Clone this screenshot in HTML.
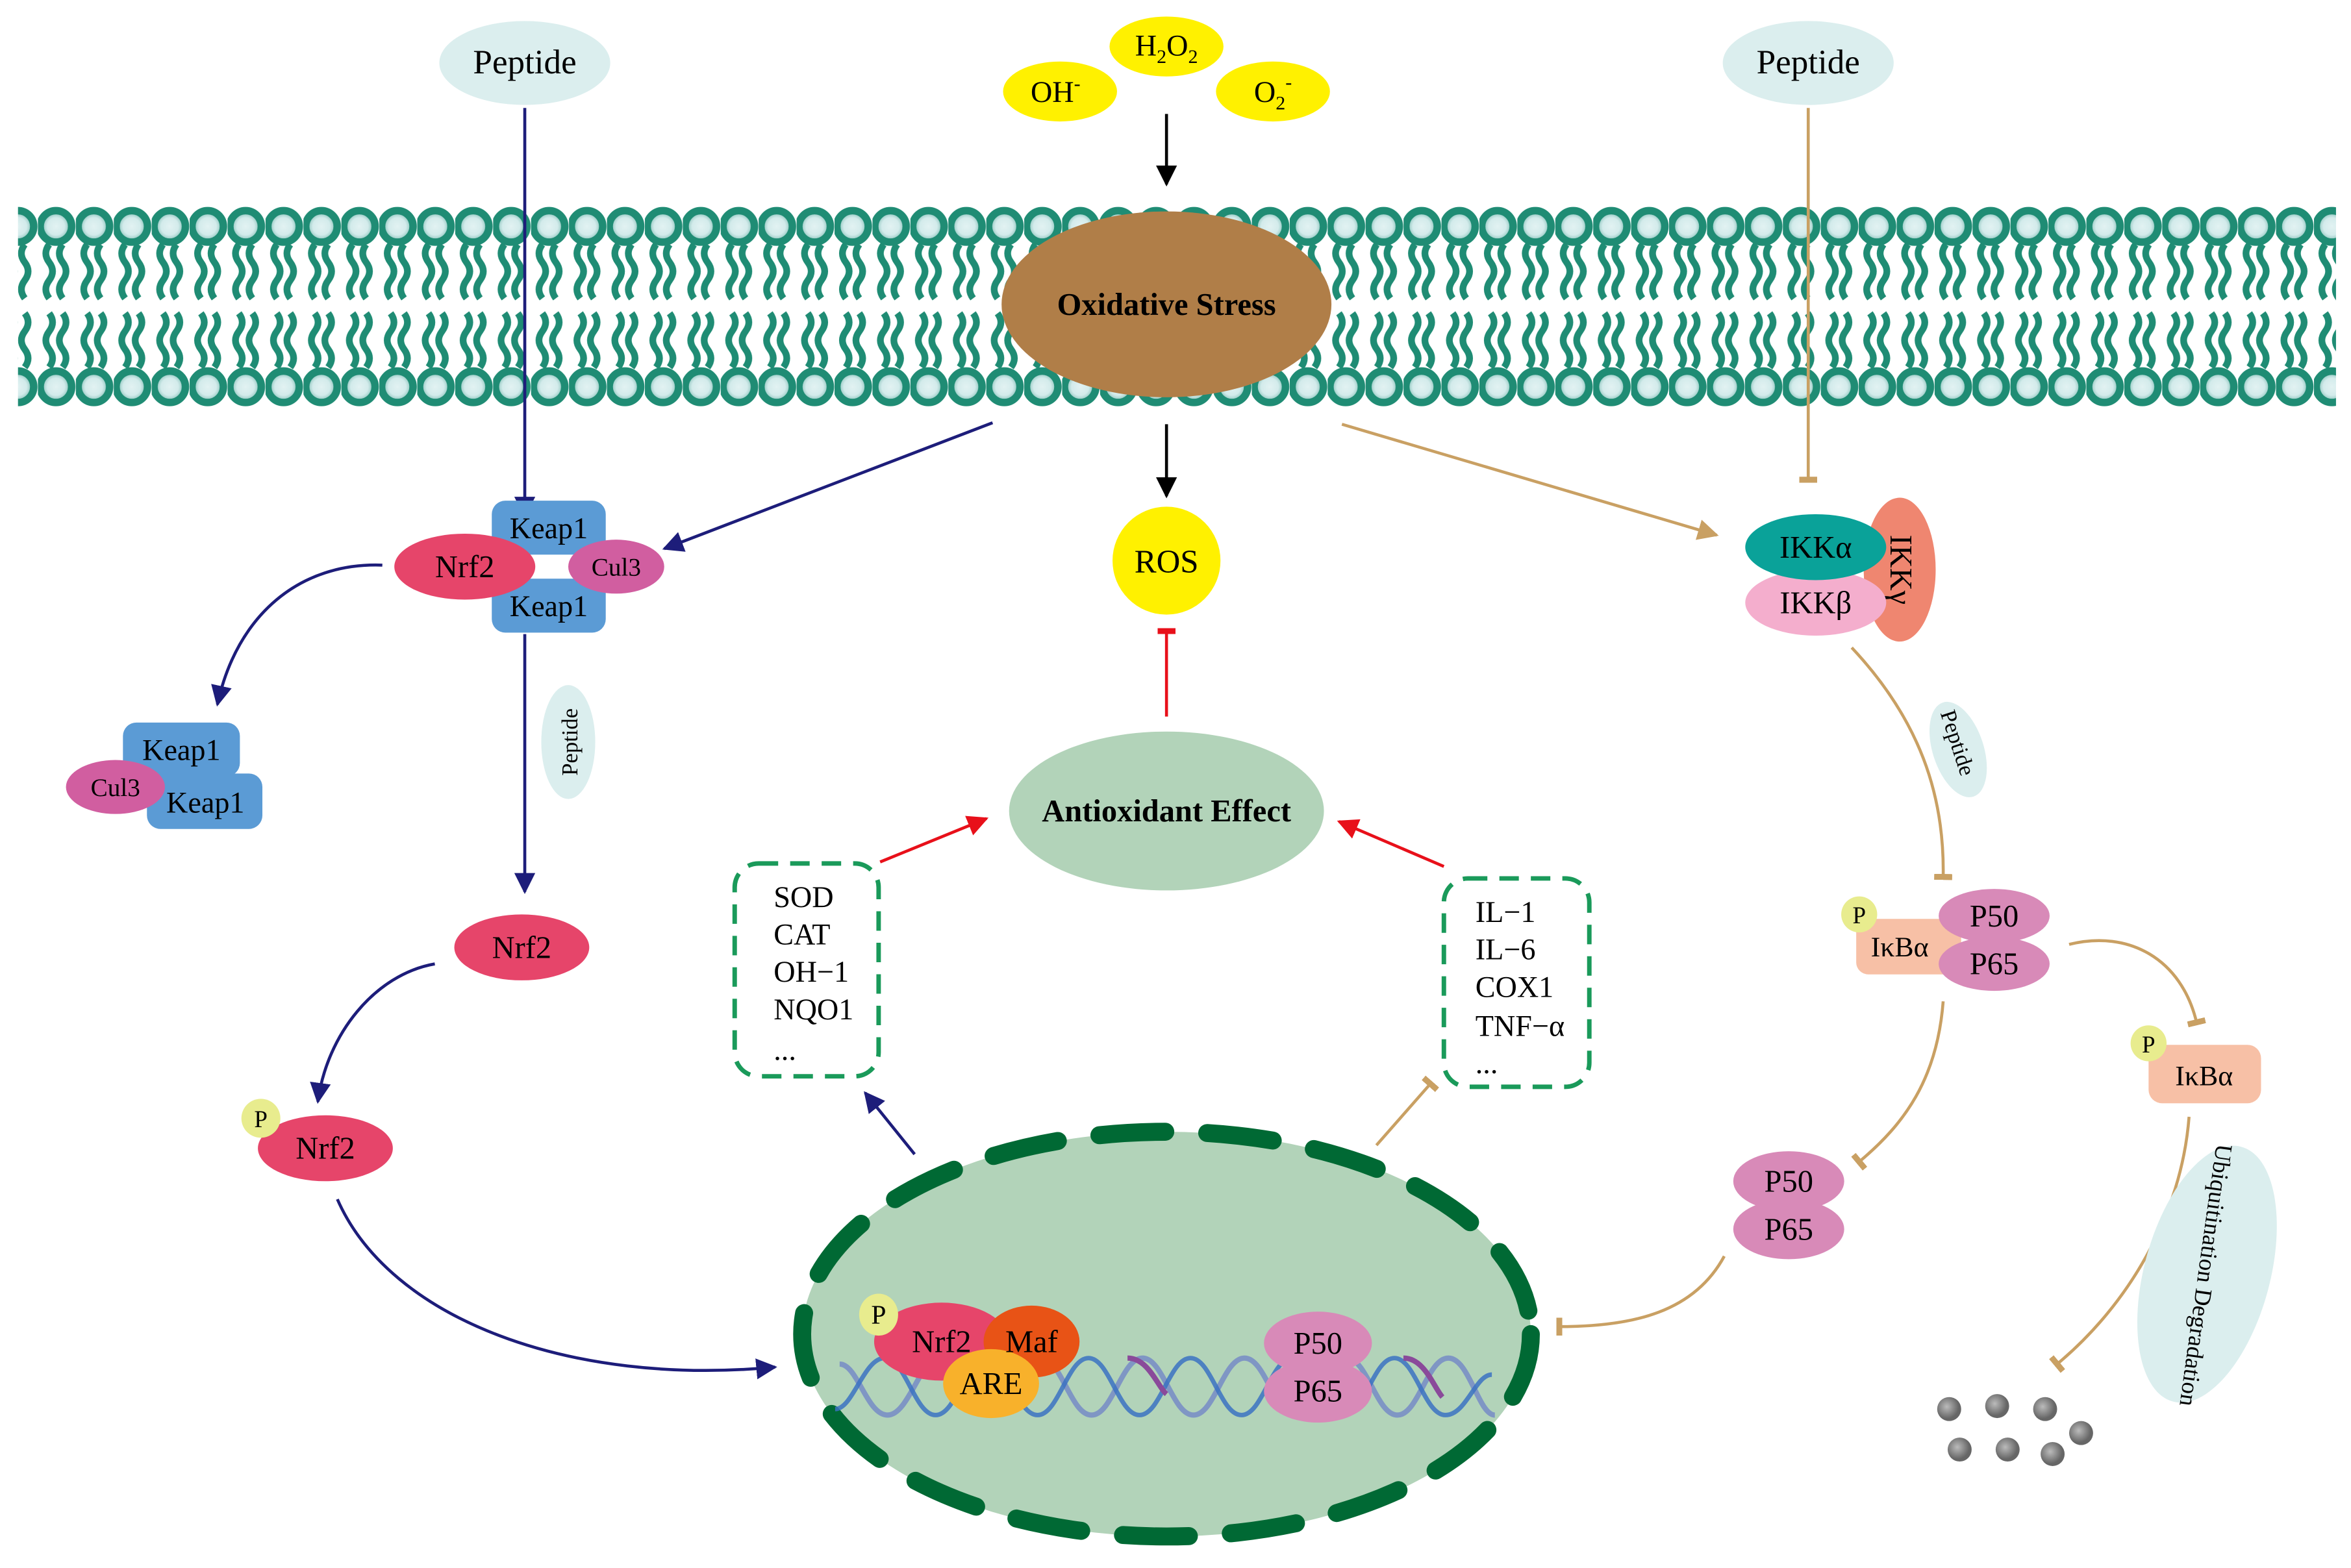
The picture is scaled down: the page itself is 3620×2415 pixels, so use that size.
<!DOCTYPE html>
<html><head><meta charset="utf-8"><style>html,body{margin:0;padding:0;background:#fff}svg{display:block}</style></head>
<body>
<svg width="3620" height="2415" viewBox="0 0 1568 1046" xmlns="http://www.w3.org/2000/svg" font-family="Liberation Serif, serif">
<defs>
<radialGradient id="hg"><stop offset="0" stop-color="#e2f2f2"/><stop offset="0.55" stop-color="#d3ebeb"/><stop offset="1" stop-color="#6fb5aa"/></radialGradient>
<radialGradient id="gd" cx="0.4" cy="0.4"><stop offset="0" stop-color="#bbb"/><stop offset="1" stop-color="#666"/></radialGradient>
<pattern id="mem" x="0" y="0" width="25.3" height="1046" patternUnits="userSpaceOnUse">
 <path d="M7.5,163 q-4.5,6 0,12 q4.5,6 0,12 q-4.5,6 0,12 M16.5,163 q-4.5,6 0,12 q4.5,6 0,12 q-4.5,6 0,12" fill="none" stroke="#1f8c74" stroke-width="4.5"/>
 <path d="M7.5,209 q4.5,6 0,12 q-4.5,6 0,12 q4.5,6 0,12 M16.5,209 q4.5,6 0,12 q-4.5,6 0,12 q4.5,6 0,12" fill="none" stroke="#1f8c74" stroke-width="4.5"/>
 <circle cx="12" cy="151" r="10.5" fill="url(#hg)" stroke="#1f8c74" stroke-width="5"/>
 <circle cx="12" cy="258" r="10.5" fill="url(#hg)" stroke="#1f8c74" stroke-width="5"/>
</pattern>
<marker id="an" viewBox="0 0 10 10" refX="9" refY="5" markerWidth="7" markerHeight="7" orient="auto"><path d="M0,0 L10,5 L0,10 z" fill="#1d1d7a"/></marker>
<marker id="ak" viewBox="0 0 10 10" refX="9" refY="5" markerWidth="7" markerHeight="7" orient="auto"><path d="M0,0 L10,5 L0,10 z" fill="#000"/></marker>
<marker id="ar" viewBox="0 0 10 10" refX="9" refY="5" markerWidth="7" markerHeight="7" orient="auto"><path d="M0,0 L10,5 L0,10 z" fill="#e8101a"/></marker>
<marker id="at" viewBox="0 0 10 10" refX="9" refY="5" markerWidth="7" markerHeight="7" orient="auto"><path d="M0,0 L10,5 L0,10 z" fill="#c9a063"/></marker>
<marker id="bt" viewBox="0 0 4 12" refX="2" refY="6" markerWidth="4" markerHeight="12" markerUnits="userSpaceOnUse" orient="auto"><rect x="0" y="0" width="4" height="12" fill="#c9a063"/></marker>
<marker id="br" viewBox="0 0 4 12" refX="2" refY="6" markerWidth="4" markerHeight="12" markerUnits="userSpaceOnUse" orient="auto"><rect x="0" y="0" width="4" height="12" fill="#e8101a"/></marker>
</defs>

<rect x="12" y="135" width="1546" height="140" fill="url(#mem)"/>

<ellipse cx="350" cy="42" rx="57" ry="28" fill="#dbeeee"/><text x="350" y="49" font-size="23" text-anchor="middle">Peptide</text>
<ellipse cx="1206" cy="42" rx="57" ry="28" fill="#dbeeee"/><text x="1206" y="49" font-size="23" text-anchor="middle">Peptide</text>
<ellipse cx="778" cy="31" rx="38" ry="20" fill="#fff100"/><text x="778" y="37" font-size="20" text-anchor="middle">H<tspan font-size="13" dy="5">2</tspan><tspan dy="-5">O</tspan><tspan font-size="13" dy="5">2</tspan></text>
<ellipse cx="707" cy="61" rx="38" ry="20" fill="#fff100"/><text x="704" y="68" font-size="20" text-anchor="middle">OH<tspan font-size="13" dy="-8">-</tspan></text>
<ellipse cx="849" cy="61" rx="38" ry="20" fill="#fff100"/><text x="849" y="68" font-size="20" text-anchor="middle">O<tspan font-size="13" dy="5">2</tspan><tspan font-size="13" dy="-14">-</tspan></text>
<line x1="778" y1="76" x2="778" y2="123" stroke="#000" stroke-width="2" marker-end="url(#ak)"/>

<ellipse cx="778" cy="203" rx="110" ry="62" fill="#b07e48"/>
<text x="778" y="210" font-size="21" font-weight="bold" text-anchor="middle">Oxidative Stress</text>
<line x1="778" y1="283" x2="778" y2="331" stroke="#000" stroke-width="2" marker-end="url(#ak)"/>
<circle cx="778" cy="374" r="36" fill="#fff100"/><text x="778" y="382" font-size="22" text-anchor="middle">ROS</text>
<line x1="778" y1="478" x2="778" y2="421" stroke="#e8101a" stroke-width="2" marker-end="url(#br)"/>

<ellipse cx="778" cy="541" rx="105" ry="53" fill="#b2d3b9"/>
<text x="778" y="548" font-size="21" font-weight="bold" text-anchor="middle">Antioxidant Effect</text>

<rect x="490" y="576" width="96" height="142" rx="16" fill="none" stroke="#1a9a5a" stroke-width="3" stroke-dasharray="13,8"/>
<g font-size="20"><text x="516" y="605">SOD</text><text x="516" y="630">CAT</text><text x="516" y="655">OH−1</text><text x="516" y="680">NQO1</text><text x="516" y="707">...</text></g>
<rect x="963" y="586" width="97" height="139" rx="16" fill="none" stroke="#1a9a5a" stroke-width="3" stroke-dasharray="13,8"/>
<g font-size="20"><text x="984" y="615">IL−1</text><text x="984" y="640">IL−6</text><text x="984" y="665">COX1</text><text x="984" y="691">TNF−α</text><text x="984" y="716">...</text></g>
<line x1="587" y1="575" x2="658" y2="546" stroke="#e8101a" stroke-width="2" marker-end="url(#ar)"/>
<line x1="963" y1="578" x2="893" y2="548" stroke="#e8101a" stroke-width="2" marker-end="url(#ar)"/>

<ellipse cx="778" cy="890" rx="243" ry="135" fill="#b2d3b9" stroke="#006934" stroke-width="12" stroke-dasharray="44,28" stroke-linecap="round"/>
<line x1="610" y1="770" x2="577" y2="729" stroke="#1d1d7a" stroke-width="2" marker-end="url(#an)"/>
<line x1="918" y1="764" x2="954" y2="723" stroke="#c9a063" stroke-width="2" marker-end="url(#bt)"/>

<path d="M560,910 C572,910 578,944 592,944 C606,944 614,906 626,906 C640,906 646,944 660,944 C674,944 680,906 694,906 C708,906 714,944 728,944 C742,944 748,906 762,906 C776,906 782,944 796,944 C810,944 816,906 830,906 C844,906 850,944 864,944 C878,944 884,906 898,906 C912,906 918,944 932,944 C946,944 952,906 966,906 C980,906 986,944 997,944" fill="none" stroke="#7f96c4" stroke-width="3.5"/>
<path d="M557,940 C569,940 576,906 590,906 C604,906 610,944 624,944 C638,944 644,906 658,906 C672,906 678,944 692,944 C706,944 712,906 726,906 C740,906 746,944 760,944 C774,944 780,906 794,906 C808,906 814,944 828,944 C842,944 848,906 862,906 C876,906 882,944 896,944 C910,944 916,906 930,906 C944,906 950,944 964,944 C978,944 984,917 995,917" fill="none" stroke="#3b72c2" stroke-width="3" opacity="0.85"/>
<path d="M752,906 C766,906 772,925 778,930 M936,906 C950,906 956,925 962,932" fill="none" stroke="#8a4a9a" stroke-width="3.5"/>

<ellipse cx="628" cy="895" rx="45" ry="26" fill="#e6456a"/>
<ellipse cx="688" cy="895" rx="32" ry="24" fill="#e85316"/>
<ellipse cx="661" cy="923" rx="32" ry="23" fill="#f8b12b"/>
<ellipse cx="586" cy="877" rx="13" ry="14" fill="#e8ec8e"/>
<text x="586" y="883" font-size="18" text-anchor="middle">P</text>
<text x="628" y="902" font-size="21" text-anchor="middle">Nrf2</text>
<text x="688" y="902" font-size="21" text-anchor="middle">Maf</text>
<text x="661" y="930" font-size="21" text-anchor="middle">ARE</text>
<ellipse cx="879" cy="896" rx="36" ry="21" fill="#d88ab8"/>
<ellipse cx="879" cy="928" rx="36" ry="21" fill="#d88ab8"/>
<text x="879" y="903" font-size="21" text-anchor="middle">P50</text>
<text x="879" y="935" font-size="21" text-anchor="middle">P65</text>

<line x1="350" y1="72" x2="350" y2="344" stroke="#1d1d7a" stroke-width="2" marker-end="url(#an)"/>
<line x1="662" y1="282" x2="443" y2="366" stroke="#1d1d7a" stroke-width="2" marker-end="url(#an)"/>
<rect x="328" y="334" width="76" height="36" rx="9" fill="#5b9bd5"/>
<rect x="328" y="386" width="76" height="36" rx="9" fill="#5b9bd5"/>
<ellipse cx="310" cy="378" rx="47" ry="22" fill="#e6456a"/>
<ellipse cx="411" cy="378" rx="32" ry="18" fill="#d15ea0"/>
<text x="366" y="359" font-size="20" text-anchor="middle">Keap1</text>
<text x="366" y="411" font-size="20" text-anchor="middle">Keap1</text>
<text x="310" y="385" font-size="21" text-anchor="middle">Nrf2</text>
<text x="411" y="384" font-size="17" text-anchor="middle">Cul3</text>

<path d="M255,377 C200,375 158,410 145,470" fill="none" stroke="#1d1d7a" stroke-width="2" marker-end="url(#an)"/>
<rect x="82" y="482" width="78" height="36" rx="9" fill="#5b9bd5"/>
<rect x="98" y="516" width="77" height="37" rx="9" fill="#5b9bd5"/>
<ellipse cx="77" cy="525" rx="33" ry="18" fill="#d15ea0"/>
<text x="121" y="507" font-size="20" text-anchor="middle">Keap1</text>
<text x="137" y="542" font-size="20" text-anchor="middle">Keap1</text>
<text x="77" y="531" font-size="17" text-anchor="middle">Cul3</text>

<line x1="350" y1="423" x2="350" y2="595" stroke="#1d1d7a" stroke-width="2" marker-end="url(#an)"/>
<ellipse cx="379" cy="495" rx="18" ry="38" fill="#dbeeee"/>
<text transform="translate(385,495) rotate(-90)" font-size="15" text-anchor="middle">Peptide</text>
<ellipse cx="348" cy="632" rx="45" ry="22" fill="#e6456a"/><text x="348" y="639" font-size="21" text-anchor="middle">Nrf2</text>
<path d="M290,643 C250,650 218,690 212,735" fill="none" stroke="#1d1d7a" stroke-width="2" marker-end="url(#an)"/>
<ellipse cx="217" cy="766" rx="45" ry="22" fill="#e6456a"/><text x="217" y="773" font-size="21" text-anchor="middle">Nrf2</text>
<circle cx="174" cy="746" r="13" fill="#e8ec8e"/><text x="174" y="752" font-size="16" text-anchor="middle">P</text>
<path d="M225,800 C260,880 380,925 517,912" fill="none" stroke="#1d1d7a" stroke-width="2" marker-end="url(#an)"/>

<line x1="1206" y1="72" x2="1206" y2="320" stroke="#c9a063" stroke-width="2" marker-end="url(#bt)"/>
<line x1="895" y1="283" x2="1145" y2="357" stroke="#c9a063" stroke-width="2" marker-end="url(#at)"/>
<ellipse cx="1267" cy="380" rx="24" ry="48" fill="#ef8670"/>
<text transform="translate(1261,380) rotate(90)" font-size="21" text-anchor="middle">IKKγ</text>
<ellipse cx="1211" cy="402" rx="47" ry="22" fill="#f4aecd"/>
<ellipse cx="1211" cy="365" rx="47" ry="22" fill="#0aa299"/>
<text x="1211" y="372" font-size="21" text-anchor="middle">IKKα</text>
<text x="1211" y="409" font-size="21" text-anchor="middle">IKKβ</text>

<path d="M1235,432 C1280,480 1297,530 1296,585" fill="none" stroke="#c9a063" stroke-width="2" marker-end="url(#bt)"/>
<ellipse cx="1306" cy="500" rx="17" ry="33" transform="rotate(-18 1306 500)" fill="#dbeeee"/>
<text transform="translate(1301,497) rotate(72)" font-size="15" text-anchor="middle">Peptide</text>

<rect x="1238" y="613" width="70" height="37" rx="8" fill="#f7c0a6"/>
<circle cx="1240" cy="610" r="12" fill="#e8ec8e"/><text x="1240" y="616" font-size="16" text-anchor="middle">P</text>
<text x="1267" y="638" font-size="19" text-anchor="middle">IκBα</text>
<ellipse cx="1330" cy="611" rx="37" ry="18" fill="#d88ab8"/>
<ellipse cx="1330" cy="643" rx="37" ry="18" fill="#d88ab8"/>
<text x="1330" y="618" font-size="21" text-anchor="middle">P50</text>
<text x="1330" y="650" font-size="21" text-anchor="middle">P65</text>

<path d="M1380,630 C1420,620 1455,640 1465,682" fill="none" stroke="#c9a063" stroke-width="2" marker-end="url(#bt)"/>
<rect x="1433" y="697" width="75" height="39" rx="9" fill="#f7c0a6"/>
<circle cx="1433" cy="696" r="12" fill="#e8ec8e"/><text x="1433" y="702" font-size="16" text-anchor="middle">P</text>
<text x="1470" y="724" font-size="19" text-anchor="middle">IκBα</text>

<path d="M1296,668 C1292,720 1270,750 1240,775" fill="none" stroke="#c9a063" stroke-width="2" marker-end="url(#bt)"/>
<ellipse cx="1193" cy="788" rx="37" ry="20" fill="#d88ab8"/>
<ellipse cx="1193" cy="820" rx="37" ry="20" fill="#d88ab8"/>
<text x="1193" y="795" font-size="21" text-anchor="middle">P50</text>
<text x="1193" y="827" font-size="21" text-anchor="middle">P65</text>
<path d="M1150,838 C1130,875 1090,885 1040,885" fill="none" stroke="#c9a063" stroke-width="2" marker-end="url(#bt)"/>

<path d="M1460,745 C1455,810 1420,870 1372,910" fill="none" stroke="#c9a063" stroke-width="2" marker-end="url(#bt)"/>
<ellipse cx="1472" cy="850" rx="42" ry="88" transform="rotate(15 1472 850)" fill="#dbeeee"/>
<text transform="translate(1466,850) rotate(98)" font-size="16" text-anchor="middle">Ubiquitination Degradation</text>

<g fill="url(#gd)">
<circle cx="1300" cy="940" r="8"/><circle cx="1332" cy="938" r="8"/><circle cx="1364" cy="940" r="8"/>
<circle cx="1307" cy="967" r="8"/><circle cx="1339" cy="967" r="8"/><circle cx="1369" cy="970" r="8"/><circle cx="1388" cy="956" r="8"/>
</g>
</svg>
</body></html>
